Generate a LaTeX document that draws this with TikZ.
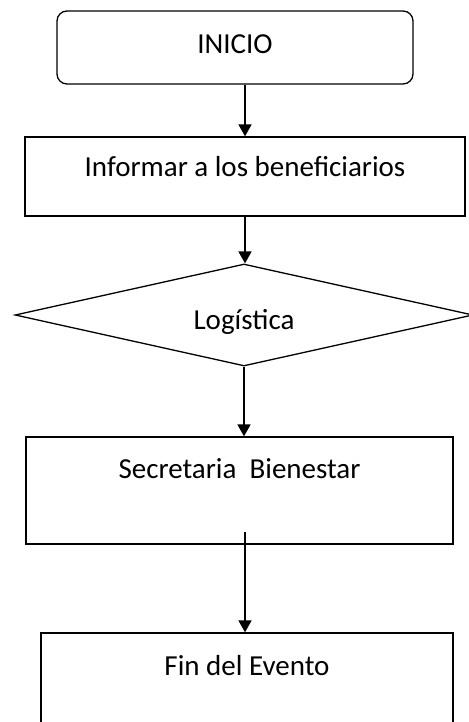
\documentclass[tikz,border=0pt]{standalone}
\usepackage{fontspec}
\setmainfont{Carlito}
\usetikzlibrary{arrows.meta, positioning, shapes.geometric}

\begin{document}
\begin{tikzpicture}[x=1pt, y=-1pt,
          box/.style={rectangle, draw=black, line width=1.3pt, inner sep=0pt,
                      font=\fontsize{29}{34}\selectfont},
          arr/.style={-{Triangle[length=12pt, width=13pt]}, line width=1.8pt}
        ]
          \useasboundingbox (0,0) rectangle (468,722);
          \node[box, rounded corners=10pt, minimum width=356pt, text height=43pt, text depth=30pt] (inicio) at (235,47.5) {INICIO};
          \node[box, minimum width=440pt, text height=40pt, text depth=39pt] (informar) at (245,176.5) {Informar a los beneficiarios};
          \node[box, diamond, aspect=4.5, minimum width=458pt, minimum height=102pt, text height=30pt, text depth=2pt] (logistica) at (244,315) {Logística};
          \node[box, minimum width=427pt, text height=41pt, text depth=66pt] (secretaria) at (239.5,490.5) {Secretaria\ \ Bienestar};
          \node[box, minimum width=412pt, text height=42pt, text depth=60pt] (fin) at (247,684) {Fin del Evento};
          \coordinate (salida) at (245,532);
          \draw[arr] (inicio.south -| informar.north) -- (informar.north);
          \draw[arr] (informar.south) -- (informar.south |- logistica.north);
          \draw[arr] (logistica.south) -- (logistica.south |- secretaria.north);
          \draw[arr] (salida) -- (salida |- fin.north);
        \end{tikzpicture}
\end{document}
